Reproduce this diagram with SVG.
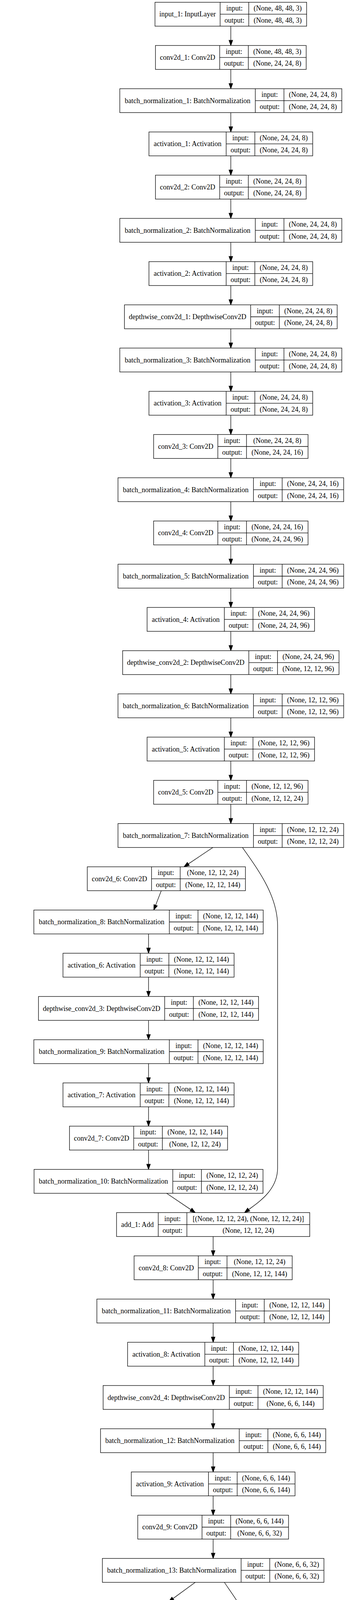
<svg xmlns="http://www.w3.org/2000/svg" width="885" height="7931" viewBox="0 0 885 7931">
<style>
.n rect{fill:#fff;stroke:#000;stroke-width:1.3}
.n path{fill:none;stroke:#000;stroke-width:1.3}
.n text{font-family:'Liberation Serif','Times New Roman',serif;font-size:18px;text-anchor:middle;fill:#000}
#edges path{fill:none;stroke:#000;stroke-width:1.3;marker-end:url(#ah)}
</style>
<defs>
<marker id="ah" markerUnits="userSpaceOnUse" markerWidth="16" markerHeight="12" refX="0" refY="6" orient="auto" overflow="visible"><path d="M0,1.3L13.3,6L0,10.7Z" fill="#000" stroke="#000" stroke-width="1.3"/></marker>
</defs>
<rect width="885" height="7931" fill="#fff"/>
<g id="edges">
<path d="M590.4,67V103.16"/>
<path d="M590.4,177.66V213.82"/>
<path d="M590.4,288.32V324.48"/>
<path d="M590.4,398.98V435.14"/>
<path d="M590.4,509.64V545.8"/>
<path d="M590.4,620.3V656.46"/>
<path d="M590.4,730.96V767.12"/>
<path d="M590.4,841.62V877.78"/>
<path d="M590.4,952.28V988.44"/>
<path d="M590.4,1062.94V1099.1"/>
<path d="M590.4,1173.6V1209.76"/>
<path d="M590.4,1284.26V1320.42"/>
<path d="M590.4,1394.92V1431.08"/>
<path d="M590.4,1505.58V1541.74"/>
<path d="M590.4,1616.24V1652.4"/>
<path d="M590.4,1726.9V1763.06"/>
<path d="M590.4,1837.56V1873.72"/>
<path d="M590.4,1948.22V1984.38"/>
<path d="M590.4,2058.88V2095.04"/>
<path d="M544.6,2169.54L481.75,2211.6"/>
<path d="M412.5,2280.2L398.11,2317.3"/>
<path d="M379.9,2390.86V2427.02"/>
<path d="M379.9,2501.52V2537.68"/>
<path d="M379.9,2612.18V2648.34"/>
<path d="M379.9,2722.84V2759"/>
<path d="M379.9,2833.5V2869.66"/>
<path d="M379.9,2944.16V2980.32"/>
<path d="M426.1,3054.82L488.38,3096.86"/>
<path d="M620.2,2169.54C655,2220 710,2290 710,2370L710,2990C710,3045 665,3075 636.1,3096.5"/>
<path d="M545.2,3165.48V3201.64"/>
<path d="M545.2,3276.14V3312.3"/>
<path d="M545.2,3386.8V3422.96"/>
<path d="M545.2,3497.46V3533.62"/>
<path d="M545.2,3608.12V3644.28"/>
<path d="M545.2,3718.78V3754.94"/>
<path d="M545.2,3829.44V3865.6"/>
<path d="M545.2,3940.1V3976.26"/>
<path d="M499.4,4050.76L442.44,4092.36"/>
<path d="M369.6,4161.42L354.82,4198.54"/>
<path d="M337.5,4272.08V4308.24"/>
<path d="M337.5,4382.74V4418.9"/>
<path d="M337.5,4493.4V4529.56"/>
<path d="M337.5,4604.06L338.6,4640.22"/>
<path d="M338.6,4714.72L339.7,4750.88"/>
<path d="M339.7,4825.38L341.4,4861.54"/>
<path d="M385.4,4936.04L445.11,4977.86"/>
<path d="M573.9,4050.76C610,4105 662,4170 662,4240L662,4870C662,4925 619,4954 591.5,4977"/>
<path d="M456,5046.7L399.04,5088.35"/>
<path d="M325.6,5157.36L311.22,5194.4"/>
<path d="M293.4,5268.02L293.2,5304.18"/>
<path d="M293.2,5378.68L293,5414.84"/>
<path d="M293,5489.34L293.2,5525.5"/>
<path d="M293.2,5600L294.6,5636.16"/>
<path d="M294.6,5710.66L296,5746.82"/>
<path d="M296,5821.32L297.4,5857.48"/>
<path d="M341.4,5931.98L402.72,5973.9"/>
<path d="M529.3,5046.7C570,5110 619,5180 619,5250L619,5850C619,5912 588,5948 544.6,5974.4"/>
<path d="M457.1,6042.64V6078.8"/>
<path d="M457.1,6153.3V6189.46"/>
<path d="M457.1,6263.96V6300.12"/>
<path d="M457.1,6374.62V6410.78"/>
<path d="M457.1,6485.28V6521.44"/>
<path d="M457.1,6595.94V6632.1"/>
<path d="M457.1,6706.6V6742.76"/>
<path d="M457.1,6817.26V6853.42"/>
<path d="M457.1,6927.92V6964.08"/>
<path d="M457.1,7038.58V7074.74"/>
<path d="M457.1,7149.24V7185.4"/>
<path d="M457.1,7259.9V7296.06"/>
<path d="M457.1,7370.56V7406.72"/>
<path d="M457.1,7481.22V7517.38"/>
<path d="M457.1,7591.88V7628.04"/>
<path d="M457.1,7702.54V7738.7"/>
<path d="M457.1,7813.2V7849.36"/>
</g>
<g id="input_1" class="n" transform="translate(396.45,5.8)"><rect width="387.9" height="61.2"/><path d="M166.6,0V61.2M239.9,0V61.2M166.6,30.6H387.9"/><text x="83.3" y="36.6">input_1: InputLayer</text><text x="203.25" y="21.3">input:</text><text x="203.25" y="51.9">output:</text><text x="313.9" y="21.3">(None, 48, 48, 3)</text><text x="313.9" y="51.9">(None, 48, 48, 3)</text></g>
<g id="conv2d_1" class="n" transform="translate(397.6,116.46)"><rect width="385.6" height="61.2"/><path d="M164.3,0V61.2M237.6,0V61.2M164.3,30.6H385.6"/><text x="82.15" y="36.6">conv2d_1: Conv2D</text><text x="200.95" y="21.3">input:</text><text x="200.95" y="51.9">output:</text><text x="311.6" y="21.3">(None, 48, 48, 3)</text><text x="311.6" y="51.9">(None, 24, 24, 8)</text></g>
<g id="batch_normalization_1" class="n" transform="translate(306.45,227.12)"><rect width="567.9" height="61.2"/><path d="M346.6,0V61.2M419.9,0V61.2M346.6,30.6H567.9"/><text x="173.3" y="36.6">batch_normalization_1: BatchNormalization</text><text x="383.25" y="21.3">input:</text><text x="383.25" y="51.9">output:</text><text x="493.9" y="21.3">(None, 24, 24, 8)</text><text x="493.9" y="51.9">(None, 24, 24, 8)</text></g>
<g id="activation_1" class="n" transform="translate(381,337.78)"><rect width="418.8" height="61.2"/><path d="M197.5,0V61.2M270.8,0V61.2M197.5,30.6H418.8"/><text x="98.75" y="36.6">activation_1: Activation</text><text x="234.15" y="21.3">input:</text><text x="234.15" y="51.9">output:</text><text x="344.8" y="21.3">(None, 24, 24, 8)</text><text x="344.8" y="51.9">(None, 24, 24, 8)</text></g>
<g id="conv2d_2" class="n" transform="translate(397.6,448.44)"><rect width="385.6" height="61.2"/><path d="M164.3,0V61.2M237.6,0V61.2M164.3,30.6H385.6"/><text x="82.15" y="36.6">conv2d_2: Conv2D</text><text x="200.95" y="21.3">input:</text><text x="200.95" y="51.9">output:</text><text x="311.6" y="21.3">(None, 24, 24, 8)</text><text x="311.6" y="51.9">(None, 24, 24, 8)</text></g>
<g id="batch_normalization_2" class="n" transform="translate(306.45,559.1)"><rect width="567.9" height="61.2"/><path d="M346.6,0V61.2M419.9,0V61.2M346.6,30.6H567.9"/><text x="173.3" y="36.6">batch_normalization_2: BatchNormalization</text><text x="383.25" y="21.3">input:</text><text x="383.25" y="51.9">output:</text><text x="493.9" y="21.3">(None, 24, 24, 8)</text><text x="493.9" y="51.9">(None, 24, 24, 8)</text></g>
<g id="activation_2" class="n" transform="translate(381,669.76)"><rect width="418.8" height="61.2"/><path d="M197.5,0V61.2M270.8,0V61.2M197.5,30.6H418.8"/><text x="98.75" y="36.6">activation_2: Activation</text><text x="234.15" y="21.3">input:</text><text x="234.15" y="51.9">output:</text><text x="344.8" y="21.3">(None, 24, 24, 8)</text><text x="344.8" y="51.9">(None, 24, 24, 8)</text></g>
<g id="depthwise_conv2d_1" class="n" transform="translate(318.35,780.42)"><rect width="544.1" height="61.2"/><path d="M322.8,0V61.2M396.1,0V61.2M322.8,30.6H544.1"/><text x="161.4" y="36.6">depthwise_conv2d_1: DepthwiseConv2D</text><text x="359.45" y="21.3">input:</text><text x="359.45" y="51.9">output:</text><text x="470.1" y="21.3">(None, 24, 24, 8)</text><text x="470.1" y="51.9">(None, 24, 24, 8)</text></g>
<g id="batch_normalization_3" class="n" transform="translate(306.45,891.08)"><rect width="567.9" height="61.2"/><path d="M346.6,0V61.2M419.9,0V61.2M346.6,30.6H567.9"/><text x="173.3" y="36.6">batch_normalization_3: BatchNormalization</text><text x="383.25" y="21.3">input:</text><text x="383.25" y="51.9">output:</text><text x="493.9" y="21.3">(None, 24, 24, 8)</text><text x="493.9" y="51.9">(None, 24, 24, 8)</text></g>
<g id="activation_3" class="n" transform="translate(381,1001.74)"><rect width="418.8" height="61.2"/><path d="M197.5,0V61.2M270.8,0V61.2M197.5,30.6H418.8"/><text x="98.75" y="36.6">activation_3: Activation</text><text x="234.15" y="21.3">input:</text><text x="234.15" y="51.9">output:</text><text x="344.8" y="21.3">(None, 24, 24, 8)</text><text x="344.8" y="51.9">(None, 24, 24, 8)</text></g>
<g id="conv2d_3" class="n" transform="translate(392.9,1112.4)"><rect width="395" height="61.2"/><path d="M164.3,0V61.2M237.6,0V61.2M164.3,30.6H395"/><text x="82.15" y="36.6">conv2d_3: Conv2D</text><text x="200.95" y="21.3">input:</text><text x="200.95" y="51.9">output:</text><text x="316.3" y="21.3">(None, 24, 24, 8)</text><text x="316.3" y="51.9">(None, 24, 24, 16)</text></g>
<g id="batch_normalization_4" class="n" transform="translate(301.75,1223.06)"><rect width="577.3" height="61.2"/><path d="M346.6,0V61.2M419.9,0V61.2M346.6,30.6H577.3"/><text x="173.3" y="36.6">batch_normalization_4: BatchNormalization</text><text x="383.25" y="21.3">input:</text><text x="383.25" y="51.9">output:</text><text x="498.6" y="21.3">(None, 24, 24, 16)</text><text x="498.6" y="51.9">(None, 24, 24, 16)</text></g>
<g id="conv2d_4" class="n" transform="translate(392.9,1333.72)"><rect width="395" height="61.2"/><path d="M164.3,0V61.2M237.6,0V61.2M164.3,30.6H395"/><text x="82.15" y="36.6">conv2d_4: Conv2D</text><text x="200.95" y="21.3">input:</text><text x="200.95" y="51.9">output:</text><text x="316.3" y="21.3">(None, 24, 24, 16)</text><text x="316.3" y="51.9">(None, 24, 24, 96)</text></g>
<g id="batch_normalization_5" class="n" transform="translate(301.75,1444.38)"><rect width="577.3" height="61.2"/><path d="M346.6,0V61.2M419.9,0V61.2M346.6,30.6H577.3"/><text x="173.3" y="36.6">batch_normalization_5: BatchNormalization</text><text x="383.25" y="21.3">input:</text><text x="383.25" y="51.9">output:</text><text x="498.6" y="21.3">(None, 24, 24, 96)</text><text x="498.6" y="51.9">(None, 24, 24, 96)</text></g>
<g id="activation_4" class="n" transform="translate(376.3,1555.04)"><rect width="428.2" height="61.2"/><path d="M197.5,0V61.2M270.8,0V61.2M197.5,30.6H428.2"/><text x="98.75" y="36.6">activation_4: Activation</text><text x="234.15" y="21.3">input:</text><text x="234.15" y="51.9">output:</text><text x="349.5" y="21.3">(None, 24, 24, 96)</text><text x="349.5" y="51.9">(None, 24, 24, 96)</text></g>
<g id="depthwise_conv2d_2" class="n" transform="translate(313.65,1665.7)"><rect width="553.5" height="61.2"/><path d="M322.8,0V61.2M396.1,0V61.2M322.8,30.6H553.5"/><text x="161.4" y="36.6">depthwise_conv2d_2: DepthwiseConv2D</text><text x="359.45" y="21.3">input:</text><text x="359.45" y="51.9">output:</text><text x="474.8" y="21.3">(None, 24, 24, 96)</text><text x="474.8" y="51.9">(None, 12, 12, 96)</text></g>
<g id="batch_normalization_6" class="n" transform="translate(301.75,1776.36)"><rect width="577.3" height="61.2"/><path d="M346.6,0V61.2M419.9,0V61.2M346.6,30.6H577.3"/><text x="173.3" y="36.6">batch_normalization_6: BatchNormalization</text><text x="383.25" y="21.3">input:</text><text x="383.25" y="51.9">output:</text><text x="498.6" y="21.3">(None, 12, 12, 96)</text><text x="498.6" y="51.9">(None, 12, 12, 96)</text></g>
<g id="activation_5" class="n" transform="translate(376.3,1887.02)"><rect width="428.2" height="61.2"/><path d="M197.5,0V61.2M270.8,0V61.2M197.5,30.6H428.2"/><text x="98.75" y="36.6">activation_5: Activation</text><text x="234.15" y="21.3">input:</text><text x="234.15" y="51.9">output:</text><text x="349.5" y="21.3">(None, 12, 12, 96)</text><text x="349.5" y="51.9">(None, 12, 12, 96)</text></g>
<g id="conv2d_5" class="n" transform="translate(392.9,1997.68)"><rect width="395" height="61.2"/><path d="M164.3,0V61.2M237.6,0V61.2M164.3,30.6H395"/><text x="82.15" y="36.6">conv2d_5: Conv2D</text><text x="200.95" y="21.3">input:</text><text x="200.95" y="51.9">output:</text><text x="316.3" y="21.3">(None, 12, 12, 96)</text><text x="316.3" y="51.9">(None, 12, 12, 24)</text></g>
<g id="batch_normalization_7" class="n" transform="translate(301.75,2108.34)"><rect width="577.3" height="61.2"/><path d="M346.6,0V61.2M419.9,0V61.2M346.6,30.6H577.3"/><text x="173.3" y="36.6">batch_normalization_7: BatchNormalization</text><text x="383.25" y="21.3">input:</text><text x="383.25" y="51.9">output:</text><text x="498.6" y="21.3">(None, 12, 12, 24)</text><text x="498.6" y="51.9">(None, 12, 12, 24)</text></g>
<g id="conv2d_6" class="n" transform="translate(223.3,2219)"><rect width="404.4" height="61.2"/><path d="M164.3,0V61.2M237.6,0V61.2M164.3,30.6H404.4"/><text x="82.15" y="36.6">conv2d_6: Conv2D</text><text x="200.95" y="21.3">input:</text><text x="200.95" y="51.9">output:</text><text x="321" y="21.3">(None, 12, 12, 24)</text><text x="321" y="51.9">(None, 12, 12, 144)</text></g>
<g id="batch_normalization_8" class="n" transform="translate(86.55,2329.66)"><rect width="586.7" height="61.2"/><path d="M346.6,0V61.2M419.9,0V61.2M346.6,30.6H586.7"/><text x="173.3" y="36.6">batch_normalization_8: BatchNormalization</text><text x="383.25" y="21.3">input:</text><text x="383.25" y="51.9">output:</text><text x="503.3" y="21.3">(None, 12, 12, 144)</text><text x="503.3" y="51.9">(None, 12, 12, 144)</text></g>
<g id="activation_6" class="n" transform="translate(161.1,2440.32)"><rect width="437.6" height="61.2"/><path d="M197.5,0V61.2M270.8,0V61.2M197.5,30.6H437.6"/><text x="98.75" y="36.6">activation_6: Activation</text><text x="234.15" y="21.3">input:</text><text x="234.15" y="51.9">output:</text><text x="354.2" y="21.3">(None, 12, 12, 144)</text><text x="354.2" y="51.9">(None, 12, 12, 144)</text></g>
<g id="depthwise_conv2d_3" class="n" transform="translate(98.45,2550.98)"><rect width="562.9" height="61.2"/><path d="M322.8,0V61.2M396.1,0V61.2M322.8,30.6H562.9"/><text x="161.4" y="36.6">depthwise_conv2d_3: DepthwiseConv2D</text><text x="359.45" y="21.3">input:</text><text x="359.45" y="51.9">output:</text><text x="479.5" y="21.3">(None, 12, 12, 144)</text><text x="479.5" y="51.9">(None, 12, 12, 144)</text></g>
<g id="batch_normalization_9" class="n" transform="translate(86.55,2661.64)"><rect width="586.7" height="61.2"/><path d="M346.6,0V61.2M419.9,0V61.2M346.6,30.6H586.7"/><text x="173.3" y="36.6">batch_normalization_9: BatchNormalization</text><text x="383.25" y="21.3">input:</text><text x="383.25" y="51.9">output:</text><text x="503.3" y="21.3">(None, 12, 12, 144)</text><text x="503.3" y="51.9">(None, 12, 12, 144)</text></g>
<g id="activation_7" class="n" transform="translate(161.1,2772.3)"><rect width="437.6" height="61.2"/><path d="M197.5,0V61.2M270.8,0V61.2M197.5,30.6H437.6"/><text x="98.75" y="36.6">activation_7: Activation</text><text x="234.15" y="21.3">input:</text><text x="234.15" y="51.9">output:</text><text x="354.2" y="21.3">(None, 12, 12, 144)</text><text x="354.2" y="51.9">(None, 12, 12, 144)</text></g>
<g id="conv2d_7" class="n" transform="translate(177.7,2882.96)"><rect width="404.4" height="61.2"/><path d="M164.3,0V61.2M237.6,0V61.2M164.3,30.6H404.4"/><text x="82.15" y="36.6">conv2d_7: Conv2D</text><text x="200.95" y="21.3">input:</text><text x="200.95" y="51.9">output:</text><text x="321" y="21.3">(None, 12, 12, 144)</text><text x="321" y="51.9">(None, 12, 12, 24)</text></g>
<g id="batch_normalization_10" class="n" transform="translate(87.15,2993.62)"><rect width="585.5" height="61.2"/><path d="M354.8,0V61.2M428.1,0V61.2M354.8,30.6H585.5"/><text x="177.4" y="36.6">batch_normalization_10: BatchNormalization</text><text x="391.45" y="21.3">input:</text><text x="391.45" y="51.9">output:</text><text x="506.8" y="21.3">(None, 12, 12, 24)</text><text x="506.8" y="51.9">(None, 12, 12, 24)</text></g>
<g id="add_1" class="n" transform="translate(298.1,3104.28)"><rect width="494.2" height="61.2"/><path d="M106.6,0V61.2M179.9,0V61.2M106.6,30.6H494.2"/><text x="53.3" y="36.6">add_1: Add</text><text x="143.25" y="21.3">input:</text><text x="143.25" y="51.9">output:</text><text x="337.05" y="21.3">[(None, 12, 12, 24), (None, 12, 12, 24)]</text><text x="337.05" y="51.9">(None, 12, 12, 24)</text></g>
<g id="conv2d_8" class="n" transform="translate(343,3214.94)"><rect width="404.4" height="61.2"/><path d="M164.3,0V61.2M237.6,0V61.2M164.3,30.6H404.4"/><text x="82.15" y="36.6">conv2d_8: Conv2D</text><text x="200.95" y="21.3">input:</text><text x="200.95" y="51.9">output:</text><text x="321" y="21.3">(None, 12, 12, 24)</text><text x="321" y="51.9">(None, 12, 12, 144)</text></g>
<g id="batch_normalization_11" class="n" transform="translate(247.75,3325.6)"><rect width="594.9" height="61.2"/><path d="M354.8,0V61.2M428.1,0V61.2M354.8,30.6H594.9"/><text x="177.4" y="36.6">batch_normalization_11: BatchNormalization</text><text x="391.45" y="21.3">input:</text><text x="391.45" y="51.9">output:</text><text x="511.5" y="21.3">(None, 12, 12, 144)</text><text x="511.5" y="51.9">(None, 12, 12, 144)</text></g>
<g id="activation_8" class="n" transform="translate(326.4,3436.26)"><rect width="437.6" height="61.2"/><path d="M197.5,0V61.2M270.8,0V61.2M197.5,30.6H437.6"/><text x="98.75" y="36.6">activation_8: Activation</text><text x="234.15" y="21.3">input:</text><text x="234.15" y="51.9">output:</text><text x="354.2" y="21.3">(None, 12, 12, 144)</text><text x="354.2" y="51.9">(None, 12, 12, 144)</text></g>
<g id="depthwise_conv2d_4" class="n" transform="translate(263.75,3546.92)"><rect width="562.9" height="61.2"/><path d="M322.8,0V61.2M396.1,0V61.2M322.8,30.6H562.9"/><text x="161.4" y="36.6">depthwise_conv2d_4: DepthwiseConv2D</text><text x="359.45" y="21.3">input:</text><text x="359.45" y="51.9">output:</text><text x="479.5" y="21.3">(None, 12, 12, 144)</text><text x="479.5" y="51.9">(None, 6, 6, 144)</text></g>
<g id="batch_normalization_12" class="n" transform="translate(257.15,3657.58)"><rect width="576.1" height="61.2"/><path d="M354.8,0V61.2M428.1,0V61.2M354.8,30.6H576.1"/><text x="177.4" y="36.6">batch_normalization_12: BatchNormalization</text><text x="391.45" y="21.3">input:</text><text x="391.45" y="51.9">output:</text><text x="502.1" y="21.3">(None, 6, 6, 144)</text><text x="502.1" y="51.9">(None, 6, 6, 144)</text></g>
<g id="activation_9" class="n" transform="translate(335.8,3768.24)"><rect width="418.8" height="61.2"/><path d="M197.5,0V61.2M270.8,0V61.2M197.5,30.6H418.8"/><text x="98.75" y="36.6">activation_9: Activation</text><text x="234.15" y="21.3">input:</text><text x="234.15" y="51.9">output:</text><text x="344.8" y="21.3">(None, 6, 6, 144)</text><text x="344.8" y="51.9">(None, 6, 6, 144)</text></g>
<g id="conv2d_9" class="n" transform="translate(352.4,3878.9)"><rect width="385.6" height="61.2"/><path d="M164.3,0V61.2M237.6,0V61.2M164.3,30.6H385.6"/><text x="82.15" y="36.6">conv2d_9: Conv2D</text><text x="200.95" y="21.3">input:</text><text x="200.95" y="51.9">output:</text><text x="311.6" y="21.3">(None, 6, 6, 144)</text><text x="311.6" y="51.9">(None, 6, 6, 32)</text></g>
<g id="batch_normalization_13" class="n" transform="translate(261.85,3989.56)"><rect width="566.7" height="61.2"/><path d="M354.8,0V61.2M428.1,0V61.2M354.8,30.6H566.7"/><text x="177.4" y="36.6">batch_normalization_13: BatchNormalization</text><text x="391.45" y="21.3">input:</text><text x="391.45" y="51.9">output:</text><text x="497.4" y="21.3">(None, 6, 6, 32)</text><text x="497.4" y="51.9">(None, 6, 6, 32)</text></g>
<g id="conv2d_10" class="n" transform="translate(185.45,4100.22)"><rect width="394.3" height="61.2"/><path d="M173,0V61.2M246.3,0V61.2M173,30.6H394.3"/><text x="86.5" y="36.6">conv2d_10: Conv2D</text><text x="209.65" y="21.3">input:</text><text x="209.65" y="51.9">output:</text><text x="320.3" y="21.3">(None, 6, 6, 32)</text><text x="320.3" y="51.9">(None, 6, 6, 192)</text></g>
<g id="batch_normalization_14" class="n" transform="translate(49.45,4210.88)"><rect width="576.1" height="61.2"/><path d="M354.8,0V61.2M428.1,0V61.2M354.8,30.6H576.1"/><text x="177.4" y="36.6">batch_normalization_14: BatchNormalization</text><text x="391.45" y="21.3">input:</text><text x="391.45" y="51.9">output:</text><text x="502.1" y="21.3">(None, 6, 6, 192)</text><text x="502.1" y="51.9">(None, 6, 6, 192)</text></g>
<g id="activation_10" class="n" transform="translate(123.65,4321.54)"><rect width="427.7" height="61.2"/><path d="M206.4,0V61.2M279.7,0V61.2M206.4,30.6H427.7"/><text x="103.2" y="36.6">activation_10: Activation</text><text x="243.05" y="21.3">input:</text><text x="243.05" y="51.9">output:</text><text x="353.7" y="21.3">(None, 6, 6, 192)</text><text x="353.7" y="51.9">(None, 6, 6, 192)</text></g>
<g id="depthwise_conv2d_5" class="n" transform="translate(65.45,4432.2)"><rect width="544.1" height="61.2"/><path d="M322.8,0V61.2M396.1,0V61.2M322.8,30.6H544.1"/><text x="161.4" y="36.6">depthwise_conv2d_5: DepthwiseConv2D</text><text x="359.45" y="21.3">input:</text><text x="359.45" y="51.9">output:</text><text x="470.1" y="21.3">(None, 6, 6, 192)</text><text x="470.1" y="51.9">(None, 6, 6, 192)</text></g>
<g id="batch_normalization_15" class="n" transform="translate(49.45,4542.86)"><rect width="576.1" height="61.2"/><path d="M354.8,0V61.2M428.1,0V61.2M354.8,30.6H576.1"/><text x="177.4" y="36.6">batch_normalization_15: BatchNormalization</text><text x="391.45" y="21.3">input:</text><text x="391.45" y="51.9">output:</text><text x="502.1" y="21.3">(None, 6, 6, 192)</text><text x="502.1" y="51.9">(None, 6, 6, 192)</text></g>
<g id="activation_11" class="n" transform="translate(124.75,4653.52)"><rect width="427.7" height="61.2"/><path d="M206.4,0V61.2M279.7,0V61.2M206.4,30.6H427.7"/><text x="103.2" y="36.6">activation_11: Activation</text><text x="243.05" y="21.3">input:</text><text x="243.05" y="51.9">output:</text><text x="353.7" y="21.3">(None, 6, 6, 192)</text><text x="353.7" y="51.9">(None, 6, 6, 192)</text></g>
<g id="conv2d_11" class="n" transform="translate(142.55,4764.18)"><rect width="394.3" height="61.2"/><path d="M173,0V61.2M246.3,0V61.2M173,30.6H394.3"/><text x="86.5" y="36.6">conv2d_11: Conv2D</text><text x="209.65" y="21.3">input:</text><text x="209.65" y="51.9">output:</text><text x="320.3" y="21.3">(None, 6, 6, 192)</text><text x="320.3" y="51.9">(None, 6, 6, 32)</text></g>
<g id="batch_normalization_16" class="n" transform="translate(58.05,4874.84)"><rect width="566.7" height="61.2"/><path d="M354.8,0V61.2M428.1,0V61.2M354.8,30.6H566.7"/><text x="177.4" y="36.6">batch_normalization_16: BatchNormalization</text><text x="391.45" y="21.3">input:</text><text x="391.45" y="51.9">output:</text><text x="497.4" y="21.3">(None, 6, 6, 32)</text><text x="497.4" y="51.9">(None, 6, 6, 32)</text></g>
<g id="add_2" class="n" transform="translate(272.05,4985.5)"><rect width="458.1" height="61.2"/><path d="M106.6,0V61.2M179.9,0V61.2M106.6,30.6H458.1"/><text x="53.3" y="36.6">add_2: Add</text><text x="143.25" y="21.3">input:</text><text x="143.25" y="51.9">output:</text><text x="319" y="21.3">[(None, 6, 6, 32), (None, 6, 6, 32)]</text><text x="319" y="51.9">(None, 6, 6, 32)</text></g>
<g id="conv2d_12" class="n" transform="translate(141.15,5096.16)"><rect width="394.3" height="61.2"/><path d="M173,0V61.2M246.3,0V61.2M173,30.6H394.3"/><text x="86.5" y="36.6">conv2d_12: Conv2D</text><text x="209.65" y="21.3">input:</text><text x="209.65" y="51.9">output:</text><text x="320.3" y="21.3">(None, 6, 6, 32)</text><text x="320.3" y="51.9">(None, 6, 6, 192)</text></g>
<g id="batch_normalization_17" class="n" transform="translate(5.35,5206.82)"><rect width="576.1" height="61.2"/><path d="M354.8,0V61.2M428.1,0V61.2M354.8,30.6H576.1"/><text x="177.4" y="36.6">batch_normalization_17: BatchNormalization</text><text x="391.45" y="21.3">input:</text><text x="391.45" y="51.9">output:</text><text x="502.1" y="21.3">(None, 6, 6, 192)</text><text x="502.1" y="51.9">(None, 6, 6, 192)</text></g>
<g id="activation_12" class="n" transform="translate(79.35,5317.48)"><rect width="427.7" height="61.2"/><path d="M206.4,0V61.2M279.7,0V61.2M206.4,30.6H427.7"/><text x="103.2" y="36.6">activation_12: Activation</text><text x="243.05" y="21.3">input:</text><text x="243.05" y="51.9">output:</text><text x="353.7" y="21.3">(None, 6, 6, 192)</text><text x="353.7" y="51.9">(None, 6, 6, 192)</text></g>
<g id="depthwise_conv2d_6" class="n" transform="translate(20.95,5428.14)"><rect width="544.1" height="61.2"/><path d="M322.8,0V61.2M396.1,0V61.2M322.8,30.6H544.1"/><text x="161.4" y="36.6">depthwise_conv2d_6: DepthwiseConv2D</text><text x="359.45" y="21.3">input:</text><text x="359.45" y="51.9">output:</text><text x="470.1" y="21.3">(None, 6, 6, 192)</text><text x="470.1" y="51.9">(None, 6, 6, 192)</text></g>
<g id="batch_normalization_18" class="n" transform="translate(5.15,5538.8)"><rect width="576.1" height="61.2"/><path d="M354.8,0V61.2M428.1,0V61.2M354.8,30.6H576.1"/><text x="177.4" y="36.6">batch_normalization_18: BatchNormalization</text><text x="391.45" y="21.3">input:</text><text x="391.45" y="51.9">output:</text><text x="502.1" y="21.3">(None, 6, 6, 192)</text><text x="502.1" y="51.9">(None, 6, 6, 192)</text></g>
<g id="activation_13" class="n" transform="translate(80.75,5649.46)"><rect width="427.7" height="61.2"/><path d="M206.4,0V61.2M279.7,0V61.2M206.4,30.6H427.7"/><text x="103.2" y="36.6">activation_13: Activation</text><text x="243.05" y="21.3">input:</text><text x="243.05" y="51.9">output:</text><text x="353.7" y="21.3">(None, 6, 6, 192)</text><text x="353.7" y="51.9">(None, 6, 6, 192)</text></g>
<g id="conv2d_13" class="n" transform="translate(98.85,5760.12)"><rect width="394.3" height="61.2"/><path d="M173,0V61.2M246.3,0V61.2M173,30.6H394.3"/><text x="86.5" y="36.6">conv2d_13: Conv2D</text><text x="209.65" y="21.3">input:</text><text x="209.65" y="51.9">output:</text><text x="320.3" y="21.3">(None, 6, 6, 192)</text><text x="320.3" y="51.9">(None, 6, 6, 32)</text></g>
<g id="batch_normalization_19" class="n" transform="translate(14.05,5870.78)"><rect width="566.7" height="61.2"/><path d="M354.8,0V61.2M428.1,0V61.2M354.8,30.6H566.7"/><text x="177.4" y="36.6">batch_normalization_19: BatchNormalization</text><text x="391.45" y="21.3">input:</text><text x="391.45" y="51.9">output:</text><text x="497.4" y="21.3">(None, 6, 6, 32)</text><text x="497.4" y="51.9">(None, 6, 6, 32)</text></g>
<g id="add_3" class="n" transform="translate(228.05,5981.44)"><rect width="458.1" height="61.2"/><path d="M106.6,0V61.2M179.9,0V61.2M106.6,30.6H458.1"/><text x="53.3" y="36.6">add_3: Add</text><text x="143.25" y="21.3">input:</text><text x="143.25" y="51.9">output:</text><text x="319" y="21.3">[(None, 6, 6, 32), (None, 6, 6, 32)]</text><text x="319" y="51.9">(None, 6, 6, 32)</text></g>
<g id="conv2d_14" class="n" transform="translate(259.95,6092.1)"><rect width="394.3" height="61.2"/><path d="M173,0V61.2M246.3,0V61.2M173,30.6H394.3"/><text x="86.5" y="36.6">conv2d_14: Conv2D</text><text x="209.65" y="21.3">input:</text><text x="209.65" y="51.9">output:</text><text x="320.3" y="21.3">(None, 6, 6, 32)</text><text x="320.3" y="51.9">(None, 6, 6, 192)</text></g>
<g id="batch_normalization_20" class="n" transform="translate(169.05,6202.76)"><rect width="576.1" height="61.2"/><path d="M354.8,0V61.2M428.1,0V61.2M354.8,30.6H576.1"/><text x="177.4" y="36.6">batch_normalization_20: BatchNormalization</text><text x="391.45" y="21.3">input:</text><text x="391.45" y="51.9">output:</text><text x="502.1" y="21.3">(None, 6, 6, 192)</text><text x="502.1" y="51.9">(None, 6, 6, 192)</text></g>
<g id="activation_14" class="n" transform="translate(243.25,6313.42)"><rect width="427.7" height="61.2"/><path d="M206.4,0V61.2M279.7,0V61.2M206.4,30.6H427.7"/><text x="103.2" y="36.6">activation_14: Activation</text><text x="243.05" y="21.3">input:</text><text x="243.05" y="51.9">output:</text><text x="353.7" y="21.3">(None, 6, 6, 192)</text><text x="353.7" y="51.9">(None, 6, 6, 192)</text></g>
<g id="depthwise_conv2d_7" class="n" transform="translate(185.05,6424.08)"><rect width="544.1" height="61.2"/><path d="M322.8,0V61.2M396.1,0V61.2M322.8,30.6H544.1"/><text x="161.4" y="36.6">depthwise_conv2d_7: DepthwiseConv2D</text><text x="359.45" y="21.3">input:</text><text x="359.45" y="51.9">output:</text><text x="470.1" y="21.3">(None, 6, 6, 192)</text><text x="470.1" y="51.9">(None, 6, 6, 192)</text></g>
<g id="batch_normalization_21" class="n" transform="translate(169.05,6534.74)"><rect width="576.1" height="61.2"/><path d="M354.8,0V61.2M428.1,0V61.2M354.8,30.6H576.1"/><text x="177.4" y="36.6">batch_normalization_21: BatchNormalization</text><text x="391.45" y="21.3">input:</text><text x="391.45" y="51.9">output:</text><text x="502.1" y="21.3">(None, 6, 6, 192)</text><text x="502.1" y="51.9">(None, 6, 6, 192)</text></g>
<g id="activation_15" class="n" transform="translate(243.25,6645.4)"><rect width="427.7" height="61.2"/><path d="M206.4,0V61.2M279.7,0V61.2M206.4,30.6H427.7"/><text x="103.2" y="36.6">activation_15: Activation</text><text x="243.05" y="21.3">input:</text><text x="243.05" y="51.9">output:</text><text x="353.7" y="21.3">(None, 6, 6, 192)</text><text x="353.7" y="51.9">(None, 6, 6, 192)</text></g>
<g id="conv2d_15" class="n" transform="translate(259.95,6756.06)"><rect width="394.3" height="61.2"/><path d="M173,0V61.2M246.3,0V61.2M173,30.6H394.3"/><text x="86.5" y="36.6">conv2d_15: Conv2D</text><text x="209.65" y="21.3">input:</text><text x="209.65" y="51.9">output:</text><text x="320.3" y="21.3">(None, 6, 6, 192)</text><text x="320.3" y="51.9">(None, 6, 6, 64)</text></g>
<g id="batch_normalization_22" class="n" transform="translate(173.75,6866.72)"><rect width="566.7" height="61.2"/><path d="M354.8,0V61.2M428.1,0V61.2M354.8,30.6H566.7"/><text x="177.4" y="36.6">batch_normalization_22: BatchNormalization</text><text x="391.45" y="21.3">input:</text><text x="391.45" y="51.9">output:</text><text x="497.4" y="21.3">(None, 6, 6, 64)</text><text x="497.4" y="51.9">(None, 6, 6, 64)</text></g>
<g id="conv2d_16" class="n" transform="translate(255.25,6977.38)"><rect width="403.7" height="61.2"/><path d="M173,0V61.2M246.3,0V61.2M173,30.6H403.7"/><text x="86.5" y="36.6">conv2d_16: Conv2D</text><text x="209.65" y="21.3">input:</text><text x="209.65" y="51.9">output:</text><text x="325" y="21.3">(None, 6, 6, 64)</text><text x="325" y="51.9">(None, 6, 6, 1280)</text></g>
<g id="batch_normalization_23" class="n" transform="translate(164.35,7088.04)"><rect width="585.5" height="61.2"/><path d="M354.8,0V61.2M428.1,0V61.2M354.8,30.6H585.5"/><text x="177.4" y="36.6">batch_normalization_23: BatchNormalization</text><text x="391.45" y="21.3">input:</text><text x="391.45" y="51.9">output:</text><text x="506.8" y="21.3">(None, 6, 6, 1280)</text><text x="506.8" y="51.9">(None, 6, 6, 1280)</text></g>
<g id="activation_16" class="n" transform="translate(238.55,7198.7)"><rect width="437.1" height="61.2"/><path d="M206.4,0V61.2M279.7,0V61.2M206.4,30.6H437.1"/><text x="103.2" y="36.6">activation_16: Activation</text><text x="243.05" y="21.3">input:</text><text x="243.05" y="51.9">output:</text><text x="358.4" y="21.3">(None, 6, 6, 1280)</text><text x="358.4" y="51.9">(None, 6, 6, 1280)</text></g>
<g id="global_average_pooling2d_1" class="n" transform="translate(126.15,7309.36)"><rect width="661.9" height="61.2"/><path d="M431.2,0V61.2M504.5,0V61.2M431.2,30.6H661.9"/><text x="215.6" y="36.6">global_average_pooling2d_1: GlobalAveragePooling2D</text><text x="467.85" y="21.3">input:</text><text x="467.85" y="51.9">output:</text><text x="583.2" y="21.3">(None, 6, 6, 1280)</text><text x="583.2" y="51.9">(None, 1280)</text></g>
<g id="reshape_1" class="n" transform="translate(258.75,7420.02)"><rect width="396.7" height="61.2"/><path d="M166,0V61.2M239.3,0V61.2M166,30.6H396.7"/><text x="83" y="36.6">reshape_1: Reshape</text><text x="202.65" y="21.3">input:</text><text x="202.65" y="51.9">output:</text><text x="318" y="21.3">(None, 1280)</text><text x="318" y="51.9">(None, 1, 1, 1280)</text></g>
<g id="Dropout" class="n" transform="translate(265.85,7530.68)"><rect width="382.5" height="61.2"/><path d="M151.8,0V61.2M225.1,0V61.2M151.8,30.6H382.5"/><text x="75.9" y="36.6">Dropout: Dropout</text><text x="188.45" y="21.3">input:</text><text x="188.45" y="51.9">output:</text><text x="303.8" y="21.3">(None, 1, 1, 1280)</text><text x="303.8" y="51.9">(None, 1, 1, 1280)</text></g>
<g id="conv2d_17" class="n" transform="translate(255.25,7641.34)"><rect width="403.7" height="61.2"/><path d="M173,0V61.2M246.3,0V61.2M173,30.6H403.7"/><text x="86.5" y="36.6">conv2d_17: Conv2D</text><text x="209.65" y="21.3">input:</text><text x="209.65" y="51.9">output:</text><text x="325" y="21.3">(None, 1, 1, 1280)</text><text x="325" y="51.9">(None, 1, 1, 43)</text></g>
<g id="softmax" class="n" transform="translate(267.95,7752)"><rect width="378.3" height="61.2"/><path d="M166.4,0V61.2M239.7,0V61.2M166.4,30.6H378.3"/><text x="83.2" y="36.6">softmax: Activation</text><text x="203.05" y="21.3">input:</text><text x="203.05" y="51.9">output:</text><text x="309" y="21.3">(None, 1, 1, 43)</text><text x="309" y="51.9">(None, 1, 1, 43)</text></g>
<g id="reshape_2" class="n" transform="translate(267.95,7862.66)"><rect width="378.3" height="61.2"/><path d="M166.4,0V61.2M239.7,0V61.2M166.4,30.6H378.3"/><text x="83.2" y="36.6">reshape_2: Reshape</text><text x="203.05" y="21.3">input:</text><text x="203.05" y="51.9">output:</text><text x="309" y="21.3">(None, 1, 1, 43)</text><text x="309" y="51.9">(None, 43)</text></g>
</svg>
